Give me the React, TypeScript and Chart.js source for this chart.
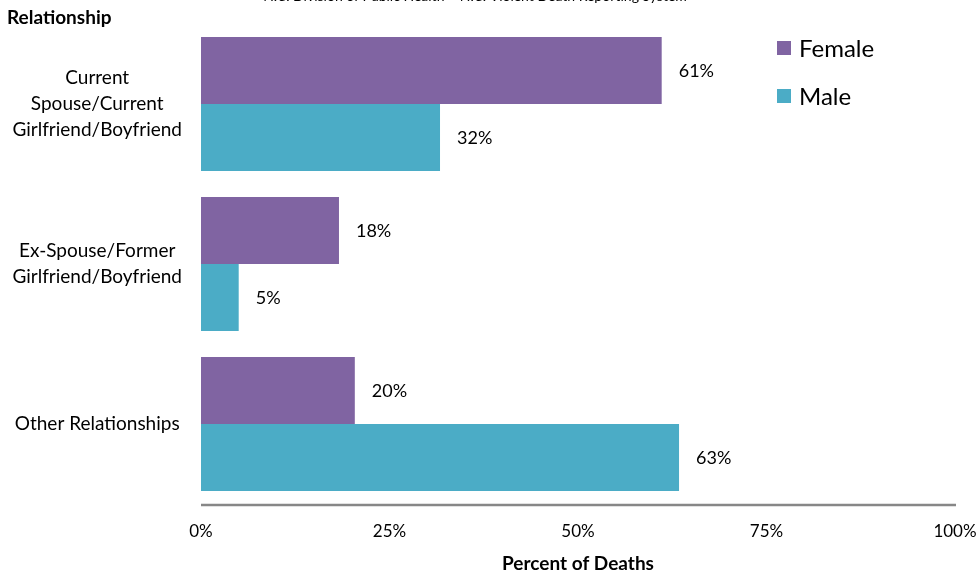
import React, { useEffect, useRef } from "react";
import { Chart, registerables } from "chart.js";

Chart.register(...registerables);

const categories: (string | string[])[] = [
  ["Current", "Spouse/Current", "Girlfriend/Boyfriend"],
  ["Ex-Spouse/Former", "Girlfriend/Boyfriend"],
  "Other Relationships",
];
const femaleValues = [61.1, 18.3, 20.4];
const maleValues = [31.7, 5.0, 63.4];
const seriesNames = ["Female", "Male"];
const xTicks = [0, 25, 50, 75, 100];
const sourceText = "N.C. Division of Public Health \u2013 N.C. Violent Death Reporting System";
const yTitle = "Relationship";
const xTitle = "Percent of Deaths";

const FONT = "Lato, 'Open Sans', sans-serif";
const PURPLE = "#8064A2";
const TEAL = "#4BACC6";

const overlayPlugin = {
  id: "overlay",
  afterDatasetsDraw(chart: any) {
    const ctx = chart.ctx;
    const area = chart.chartArea;
    ctx.save();
    // axis line
    ctx.strokeStyle = "#878787";
    ctx.lineWidth = 2.5;
    ctx.beginPath();
    ctx.moveTo(area.left, area.bottom + 1);
    ctx.lineTo(area.right + 1, area.bottom + 1);
    ctx.stroke();
    // value labels
    ctx.font = `18px ${FONT}`;
    ctx.fillStyle = "#000";
    ctx.textAlign = "left";
    ctx.textBaseline = "middle";
    chart.data.datasets.forEach((ds: any, i: number) => {
      const meta = chart.getDatasetMeta(i);
      meta.data.forEach((bar: any, j: number) => {
        const v = ds.data[j];
        ctx.fillText(`${Math.round(v)}%`, bar.x + 17, bar.y + 1);
      });
    });
    // top title (y axis title)
    ctx.font = `bold 19px ${FONT}`;
    ctx.textBaseline = "middle";
    ctx.fillText(yTitle, 7, 18);
    // source line clipped at top
    ctx.font = `14px ${FONT}`;
    ctx.textAlign = "center";
    ctx.textBaseline = "alphabetic";
    ctx.fillText(sourceText, 475, 1);
    // legend
    const lx = area.right - 178;
    const items = [
      { name: seriesNames[0], color: PURPLE, y: 48 },
      { name: seriesNames[1], color: TEAL, y: 96 },
    ];
    ctx.font = `24px ${FONT}`;
    ctx.textAlign = "left";
    ctx.textBaseline = "middle";
    items.forEach((it) => {
      ctx.fillStyle = it.color;
      ctx.fillRect(lx, it.y - 7, 14, 14);
      ctx.fillStyle = "#000";
      ctx.fillText(it.name, lx + 22, it.y + 1);
    });
    ctx.restore();
  },
};

const zeroPadding = (scale: any) => {
  scale.paddingTop = 0;
  scale.paddingBottom = 0;
  scale.paddingLeft = 0;
  scale.paddingRight = 0;
};

export default function App() {
  const ref = useRef<HTMLCanvasElement | null>(null);
  useEffect(() => {
    if (!ref.current) return;
    const chart = new Chart(ref.current, {
      type: "bar",
      data: {
        labels: categories as any,
        datasets: [
          {
            label: seriesNames[0],
            data: femaleValues,
            backgroundColor: PURPLE,
            barPercentage: 1,
            categoryPercentage: 0.8375,
          },
          {
            label: seriesNames[1],
            data: maleValues,
            backgroundColor: TEAL,
            barPercentage: 1,
            categoryPercentage: 0.8375,
          },
        ],
      },
      options: {
        indexAxis: "y",
        animation: false,
        responsive: false,
        devicePixelRatio: 1,
        layout: { padding: { top: 24, right: 22, left: 0, bottom: 0 } },
        plugins: {
          legend: { display: false },
          tooltip: { enabled: false },
          title: { display: false },
        },
        scales: {
          x: {
            min: 0,
            max: 100,
            afterBuildTicks(scale: any) {
              scale.ticks = xTicks.map((v) => ({ value: v }));
            },
            afterFit(scale: any) {
              scale.height = 71;
              zeroPadding(scale);
            },
            grid: { display: false, drawTicks: false },
            border: { display: false },
            ticks: {
              padding: 17,
              color: "#000",
              font: { family: FONT, size: 17 },
              maxRotation: 0,
              callback: (v: any) => `${v}%`,
            },
            title: {
              display: true,
              text: xTitle,
              color: "#000",
              font: { family: FONT, size: 19, weight: "bold" },
              padding: { top: 10, bottom: 0 },
            },
          },
          y: {
            afterFit(scale: any) {
              scale.width = 201;
              zeroPadding(scale);
            },
            grid: { display: false, drawTicks: false },
            border: { display: false },
            ticks: {
              padding: 19,
              crossAlign: "center",
              color: "#000",
              font: { family: FONT, size: 19, lineHeight: 1.35 },
            },
          },
        },
      },
      plugins: [overlayPlugin],
    });
    return () => chart.destroy();
  }, []);
  return (
    <div style={{ position: "fixed", left: 0, top: 0, width: 977, height: 575, background: "#fff" }}>
      <canvas ref={ref} width={977} height={575} style={{ width: 977, height: 575 }} />
    </div>
  );
}
